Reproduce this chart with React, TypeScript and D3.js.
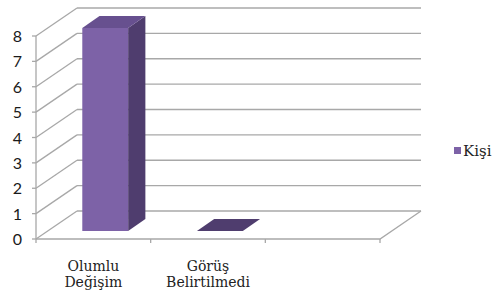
import React from "react";
import { scaleBand, scaleLinear, range } from "d3";

// chart data
const categories = ["Olumlu Değişim", "Görüş Belirtilmedi", ""];
const labelLines = [["Olumlu", "Değişim"], ["Görüş", "Belirtilmedi"], []];
const seriesName = "Kişi";
const values: (number | null)[] = [8, 0, null];
const yTicks = [0, 1, 2, 3, 4, 5, 6, 7, 8];

const W = 503;
const H = 300;
const X0 = 36; // front-left corner of floor
const Y0 = 239;
const PLOT_W = 344;
const PLOT_H = 203;
const DX = 41; // depth offset
const DY = -28;

const FRONT = "#7d62a7";
const TOP = "#67508f";
const SIDE = "#4f3d6e";
const GRID = "#a8a8a8";
const SERIF = "DejaVu Serif";

function App() {
  const slot = scaleBand<string>().domain(categories).range([0, PLOT_W]);
  const bar = scaleBand<string>()
    .domain(categories)
    .range([0, PLOT_W])
    .paddingInner(0.6)
    .paddingOuter(0.3);
  const y = scaleLinear().domain([0, 8]).range([0, PLOT_H]);

  // project (x along axis, value, depth 0..1) to screen
  const p = (x: number, v: number, d: number): [number, number] => [
    X0 + x + DX * d,
    Y0 - y(v) + DY * d,
  ];
  const pts = (a: [number, number][]) => a.map((q) => q.join(",")).join(" ");

  const d0 = 0.29;
  const d1 = 0.71;

  return (
    <svg
      width={W}
      height={H}
      style={{ position: "absolute", left: 0, top: 0, background: "#fff" }}
    >
      {/* back wall grid lines */}
      {yTicks.map((t) => {
        const a = p(0, t, 1);
        const b = p(PLOT_W, t, 1);
        const f = p(0, t, 0);
        return (
          <g key={t} stroke={GRID} strokeWidth={1.3} fill="none">
            <line x1={a[0]} y1={a[1]} x2={b[0]} y2={b[1]} />
            <line x1={f[0]} y1={f[1]} x2={a[0]} y2={a[1]} />
          </g>
        );
      })}
      {/* floor */}
      <polyline
        points={pts([p(0, 0, 0), p(PLOT_W, 0, 0), p(PLOT_W, 0, 1)])}
        fill="none"
        stroke={GRID}
        strokeWidth={1.3}
      />
      {/* y axis */}
      <line
        x1={X0}
        y1={Y0}
        x2={X0}
        y2={Y0 - y(8)}
        stroke={GRID}
        strokeWidth={1.3}
      />
      {yTicks.map((t) => (
        <g key={"yt" + t}>
          <line
            x1={X0 - 4}
            x2={X0}
            y1={Y0 - y(t)}
            y2={Y0 - y(t)}
            stroke={GRID}
            strokeWidth={1.3}
          />
          <text
            x={22}
            y={Y0 - y(t) + 6}
            textAnchor="end"
            fontFamily="Lato"
            fontSize="16px"
            fill="#1a1a1a"
          >
            {t}
          </text>
        </g>
      ))}
      {/* x ticks */}
      {range(categories.length + 1).map((i) => {
        const x = X0 + slot.step() * i;
        return (
          <line
            key={"xt" + i}
            x1={x}
            x2={x}
            y1={Y0}
            y2={Y0 + 4}
            stroke={GRID}
            strokeWidth={1.3}
          />
        );
      })}
      {/* bars */}
      {categories.map((c, i) => {
        const v = values[i];
        if (v == null) return null;
        const xl = bar(c)!;
        const xr = xl + bar.bandwidth();
        if (v === 0) {
          return (
            <polygon
              key={c}
              points={pts([p(xl, 0, d0), p(xr, 0, d0), p(xr, 0, d1), p(xl, 0, d1)])}
              fill={SIDE}
            />
          );
        }
        return (
          <g key={c}>
            <polygon
              points={pts([p(xl, 0, d0), p(xr, 0, d0), p(xr, v, d0), p(xl, v, d0)])}
              fill={FRONT}
            />
            <polygon
              points={pts([p(xr, 0, d0), p(xr, 0, d1), p(xr, v, d1), p(xr, v, d0)])}
              fill={SIDE}
            />
            <polygon
              points={pts([p(xl, v, d0), p(xr, v, d0), p(xr, v, d1), p(xl, v, d1)])}
              fill={TOP}
            />
          </g>
        );
      })}
      {/* category labels */}
      {categories.map((c, i) => {
        const cx = X0 + slot(c)! + slot.bandwidth() / 2;
        return (
          <text
            key={"lab" + i}
            x={cx}
            textAnchor="middle"
            fontFamily={SERIF}
            fontSize="14px"
            fill="#222"
          >
            {labelLines[i].map((l, j) => (
              <tspan key={j} x={cx} y={271 + j * 16}>
                {l}
              </tspan>
            ))}
          </text>
        );
      })}
      {/* legend */}
      <rect x={454} y={147} width={7} height={7} fill={FRONT} />
      <text x={463} y={156} fontFamily={SERIF} fontSize="15px" fill="#222">
        {seriesName}
      </text>
    </svg>
  );
}

export default App;
